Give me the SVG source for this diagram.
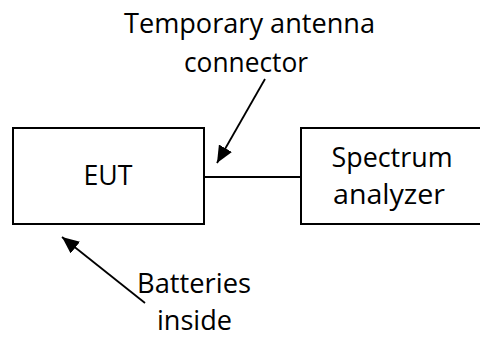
<svg xmlns="http://www.w3.org/2000/svg" width="480" height="337" viewBox="0 0 480 337">
<defs>
<style>
.box{fill:#fff;stroke:#000;stroke-width:2}
.ln{stroke:#000;stroke-width:1.8;fill:none}
.t{font-family:"Open Sans","Noto Sans","Liberation Sans",sans-serif;font-size:28px;fill:#000;text-anchor:middle}
</style>
<marker id="ah2" viewBox="0 0 10 10" refX="10" refY="5" markerWidth="17" markerHeight="15" markerUnits="userSpaceOnUse" orient="auto" preserveAspectRatio="none">
<path d="M0,0 L10,5 L0,10 z" fill="#000"/>
</marker>
</defs>
<rect width="480" height="337" fill="#fff"/>
<g id="connectors">
<line class="ln" x1="204" y1="177" x2="301" y2="177"/>
<line class="ln" x1="265" y1="79" x2="217" y2="163" marker-end="url(#ah2)"/>
<line class="ln" x1="145" y1="303" x2="62" y2="237" marker-end="url(#ah2)"/>
</g>
<g id="eut">
<rect class="box" x="13" y="128" width="191" height="96"/>
<text class="t" x="108" y="185" textLength="49" lengthAdjust="spacingAndGlyphs">EUT</text>
</g>
<g id="spectrum">
<rect class="box" x="301" y="128" width="185" height="96"/>
<text class="t" x="392" y="167" textLength="121" lengthAdjust="spacingAndGlyphs">Spectrum</text>
<text class="t" x="389" y="204" textLength="112" lengthAdjust="spacingAndGlyphs">analyzer</text>
</g>
<g id="label-connector">
<text class="t" x="249.5" y="33" textLength="251" lengthAdjust="spacingAndGlyphs">Temporary antenna</text>
<text class="t" x="246" y="72" textLength="124" lengthAdjust="spacingAndGlyphs">connector</text>
</g>
<g id="label-batteries">
<text class="t" x="194" y="293" textLength="114" lengthAdjust="spacingAndGlyphs">Batteries</text>
<text class="t" x="194.5" y="330" textLength="75" lengthAdjust="spacingAndGlyphs">inside</text>
</g>
</svg>
